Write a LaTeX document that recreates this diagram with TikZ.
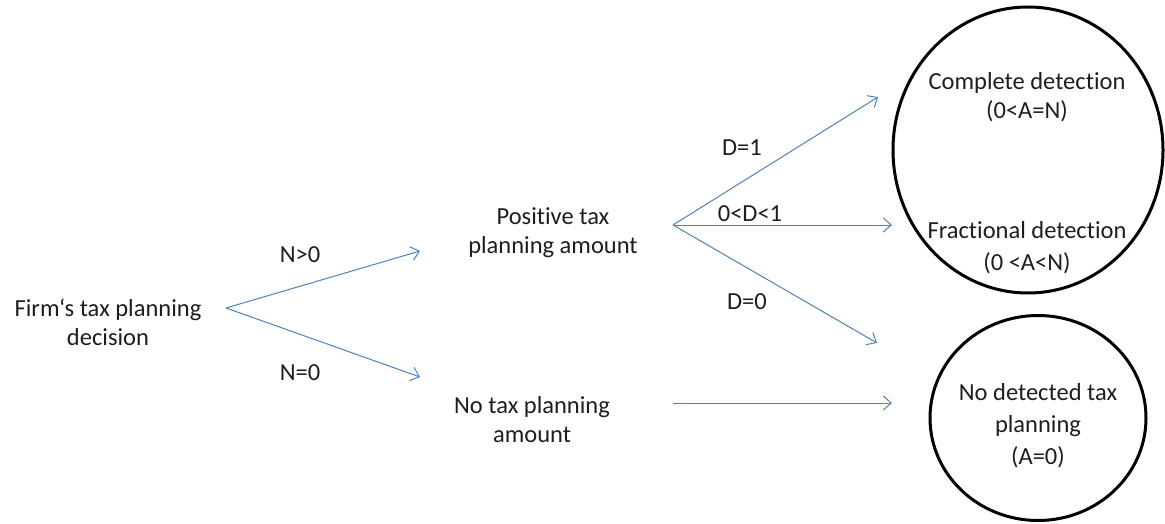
\documentclass[tikz,border=0pt]{standalone}
\usepackage{fontspec}
\setmainfont{Carlito}[Ligatures=NoCommon]
\usepackage{tikz}
\usetikzlibrary{arrows.meta}
\usetikzlibrary{shapes.geometric}
\definecolor{mblue}{RGB}{79,129,189}
\definecolor{inkgray}{RGB}{30,30,30}
\tikzset{branch/.style = {draw=mblue, line width=1pt,
                          -{Straight Barb[length=8pt, width=14pt, line width=1pt]}},
         txt/.style = {align=center, inner sep=1pt},
         oval/.style = {ellipse, draw=black, line width=3pt, inner sep=0pt}}

\begin{document}
\begin{tikzpicture}[x=1pt, y=-1pt, font=\fontsize{24.5}{29}\selectfont, text=inkgray]
      \useasboundingbox (0,0) rectangle (1165,524);

      % stages of the decision
      \node [txt] (firm) at (108,322) {Firm‘s tax planning\\decision};
      \node [txt] (pos) at (553,233) {Positive tax\\planning amount};
      \node [txt] (notax) at (532,420) {No tax planning\\amount};

      % outcomes
      \node [oval, minimum width=270pt, minimum height=286pt] (detect) at (1028,150) {};
      \node [txt] (complete) at (1027,97) {Complete detection\\(0<A=N)};
      \node [txt, font=\fontsize{24.5}{32}\selectfont] (fractional) at (1027,248)
            {Fractional detection\\(0 <A<N)};
      \node [oval, minimum width=216pt, minimum height=205pt] (nodetect) at (1038,418) {};
      \node [txt, font=\fontsize{24.5}{32}\selectfont] (nodettext) at (1038,426)
            {No detected tax\\planning\\(A=0)};

      % fork points and arrow ends
      \coordinate (fork1) at (226,308);
      \coordinate (fork2) at (673,225);
      \coordinate (nstart) at (673,403);
      \coordinate (tipPos) at (420,251);
      \coordinate (tipNo) at (420,377);
      \coordinate (tipFull) at (878,97);
      \coordinate (tipFrac) at (892,225);
      \coordinate (tipZero) at (877,343);
      \coordinate (tipNone) at (892,403);

      \draw [branch] (fork1) -- (tipPos);
      \draw [branch] (fork1) -- (tipNo);
      \foreach \t in {tipFull, tipFrac, tipZero} {
        \draw [branch] (fork2) -- (\t);
      }
      \draw [branch] (nstart) -- (tipNone);

      % branch labels
      \node (lpos) at (300,255) {N>0};
      \node (lno) at (300,373) {N=0};
      \node (lfull) at (742,148) {D=1};
      \node (lfrac) at (750,214) {0<D<1};
      \node (lzero) at (747,302) {D=0};
    \end{tikzpicture}
\end{document}
